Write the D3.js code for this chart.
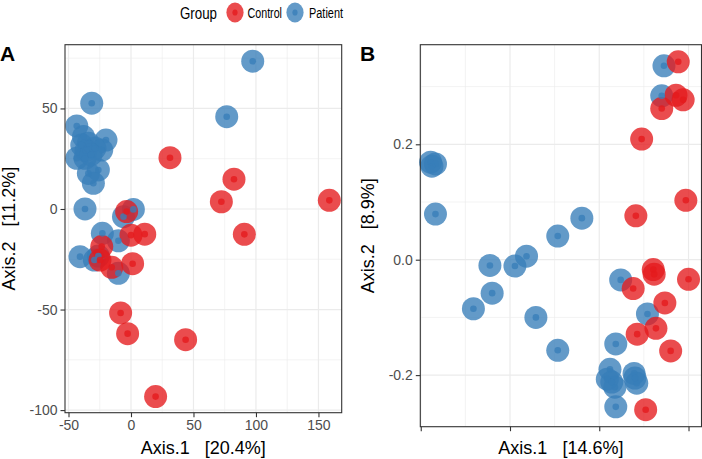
<!DOCTYPE html>
<html><head><meta charset="utf-8">
<script src="https://cdn.jsdelivr.net/npm/d3@7"></script>
<style>
html,body{margin:0;padding:0;background:#fff;}
svg text{font-family:"Liberation Sans",Arial,sans-serif;white-space:pre;}
</style></head>
<body><svg id="chart" width="702" height="459"></svg>
<script>
// ---------- data ----------
const groups = ["Control", "Patient"];
const groupColors = ["#E41A1C", "#377EB8"];

const panelA_control = [[31.2,25.5],[82.4,14.8],[72.3,3.6],[158.7,4.3],[-3.5,-1.3],[0,-13],[11,-12.5],[90.7,-12.6],[-23.4,-18.7],[-24.8,-25.4],[-15.4,-29],[1.3,-27.2],[-8.3,-51.7],[-2.7,-62],[43.7,-65],[19.7,-93.3]];
const panelA_patient = [[97.4,73.5],[76.6,45.9],[-31.4,52.6],[-43.4,41.3],[-20,34.3],[-38,36],[-39.4,31.8],[-34.1,32.7],[-28.8,30.2],[-23.4,29.3],[-36.8,25.2],[-43.4,25.2],[-26.1,19.4],[-34.1,17.7],[-30.1,12.8],[-36,29],[-32,27],[-36.8,0],[1.9,-0.2],[-6,-3.8],[-22.9,-12.1],[-10.1,-15.8],[-40.8,-23.7],[-26.1,-23.4],[-29.3,-25.4],[-10.1,-32]];

const panelB_control = [[0.177,0.343],[0.172,0.285],[0.188,0.277],[0.140,0.262],[0.095,0.209],[0.194,0.103],[0.082,0.076],[0.076,-0.050],[0.121,-0.017],[0.123,-0.025],[0.200,-0.034],[0.147,-0.075],[0.127,-0.119],[0.085,-0.129],[0.160,-0.158],[0.104,-0.260]];
const panelB_patient = [[0.145,0.336],[0.140,0.284],[-0.378,0.169],[-0.367,0.166],[-0.375,0.162],[-0.367,0.079],[-0.039,0.072],[-0.093,0.041],[-0.245,-0.010],[-0.189,-0.011],[-0.163,0.006],[-0.240,-0.058],[-0.282,-0.085],[-0.142,-0.100],[-0.093,-0.157],[0.048,-0.035],[0.108,-0.094],[0.037,-0.146],[0.024,-0.190],[0.018,-0.207],[0.035,-0.221],[0.028,-0.212],[0.078,-0.197],[0.084,-0.214],[0.080,-0.205],[0.037,-0.255]];

const panelA_xTicks = [-50, 0, 50, 100, 150];
const panelA_yTicks = [-100, -50, 0, 50];
const panelA_xMinor = [-25, 25, 75, 125];
const panelA_yMinor = [-75, -25, 25, 75];
const panelB_xTicks = [-0.4, -0.2, 0, 0.2];
const panelB_xTickLabels = ["", "", "", ""];
const panelB_yTicks = [-0.2, 0.0, 0.2];
const panelB_yTickLabels = ["-0.2", "0.0", "0.2"];
const panelB_xMinor = [-0.3, -0.1, 0.1];
const panelB_yMinor = [-0.1, 0.1, 0.3];

const titles = {A:["Axis.1   [20.4%]","Axis.2   [11.2%]"], B:["Axis.1   [14.6%]","Axis.2   [8.9%]"]};

// ---------- drawing ----------
const svg = d3.select("#chart");
const R = 11.5, r = 3.3, alpha = 0.78;

function panel(cfg){
  const x = d3.scaleLinear().domain(cfg.xDomain).range([cfg.left, cfg.right]);
  const y = d3.scaleLinear().domain(cfg.yDomain).range([cfg.bottom, cfg.top]);
  const g = svg.append("g");
  // grid
  g.selectAll(".vmin").data(cfg.xMinor).enter().append("line")
    .attr("x1", d=>x(d)).attr("x2", d=>x(d)).attr("y1", cfg.top).attr("y2", cfg.bottom)
    .attr("stroke", "#ebebeb").attr("stroke-width", 0.6);
  g.selectAll(".hmin").data(cfg.yMinor).enter().append("line")
    .attr("y1", d=>y(d)).attr("y2", d=>y(d)).attr("x1", cfg.left).attr("x2", cfg.right)
    .attr("stroke", "#ebebeb").attr("stroke-width", 0.6);
  g.selectAll(".vmaj").data(cfg.xTicks).enter().append("line")
    .attr("x1", d=>x(d)).attr("x2", d=>x(d)).attr("y1", cfg.top).attr("y2", cfg.bottom)
    .attr("stroke", "#ebebeb").attr("stroke-width", 1.2);
  g.selectAll(".hmaj").data(cfg.yTicks).enter().append("line")
    .attr("y1", d=>y(d)).attr("y2", d=>y(d)).attr("x1", cfg.left).attr("x2", cfg.right)
    .attr("stroke", "#ebebeb").attr("stroke-width", 1.2);

  // points: outer circles then inner dots
  const sets = [[cfg.patient, groupColors[1]], [cfg.control, groupColors[0]]];
  sets.forEach(([data, col]) => {
    g.append("g").selectAll("circle").data(data).enter().append("circle")
      .attr("cx", d=>x(d[0])).attr("cy", d=>y(d[1])).attr("r", R)
      .attr("fill", col).attr("fill-opacity", alpha);
  });
  sets.forEach(([data, col]) => {
    g.append("g").selectAll("circle").data(data).enter().append("circle")
      .attr("cx", d=>x(d[0])).attr("cy", d=>y(d[1])).attr("r", r)
      .attr("fill", col).attr("fill-opacity", alpha);
  });

  // border
  g.append("rect").attr("x", cfg.left).attr("y", cfg.top)
    .attr("width", cfg.right-cfg.left).attr("height", cfg.bottom-cfg.top)
    .attr("fill", "none").attr("stroke", "#333333").attr("stroke-width", 1.1);

  // axes
  const xa = d3.axisBottom(x).tickValues(cfg.xTicks).tickSize(4.5).tickPadding(2.5)
    .tickFormat((d,i)=>cfg.xLabels[i]);
  const ya = d3.axisLeft(y).tickValues(cfg.yTicks).tickSize(4.5).tickPadding(3)
    .tickFormat((d,i)=>cfg.yLabels[i]);
  const gx = g.append("g").attr("transform", `translate(0,${cfg.bottom})`).call(xa);
  const gy = g.append("g").attr("transform", `translate(${cfg.left},0)`).call(ya);
  [gx, gy].forEach(a => {
    a.select(".domain").remove();
    a.selectAll(".tick line").attr("stroke", "#333333").attr("stroke-width", 1.1);
    a.selectAll(".tick text").attr("fill", "#4d4d4d").style("font-size", "14px")
      .style("font-family", '"Liberation Sans",Arial,sans-serif');
  });

  // titles
  g.append("text").attr("x", (cfg.left+cfg.right)/2).attr("y", 454)
    .attr("text-anchor", "middle").style("font-size", "18px").attr("fill", "#000")
    .text(cfg.titles[0]);
  g.append("text").attr("transform", `translate(${cfg.yTitleX},${(cfg.top+cfg.bottom)/2}) rotate(-90)`)
    .attr("text-anchor", "middle").style("font-size", "18px").attr("fill", "#000")
    .text(cfg.titles[1]);
  g.append("text").attr("x", cfg.tagX).attr("y", 61).style("font-size", "21px")
    .style("font-weight", "bold").text(cfg.tag);
}

panel({
  left: 65, right: 341.7, top: 44.7, bottom: 412.7,
  xDomain: [-52.8, 168.6], yDomain: [-101.3, 81.7],
  xTicks: panelA_xTicks, yTicks: panelA_yTicks, xMinor: panelA_xMinor, yMinor: panelA_yMinor,
  xLabels: panelA_xTicks.map(String), yLabels: panelA_yTicks.map(String),
  control: panelA_control, patient: panelA_patient,
  titles: titles.A, yTitleX: 15, tag: "A", tagX: 0
});
panel({
  left: 420.3, right: 701.5, top: 44.7, bottom: 426.7,
  xDomain: [-0.401, 0.2291], yDomain: [-0.2894, 0.3726],
  xTicks: panelB_xTicks, yTicks: panelB_yTicks, xMinor: panelB_xMinor, yMinor: panelB_yMinor,
  xLabels: panelB_xTickLabels, yLabels: panelB_yTickLabels,
  control: panelB_control, patient: panelB_patient,
  titles: titles.B, yTitleX: 374, tag: "B", tagX: 360
});

// legend
const lg = svg.append("g");
lg.append("text").attr("x", 180).attr("y", 19).style("font-size", "17px")
  .attr("textLength", 37).attr("lengthAdjust", "spacingAndGlyphs").text("Group");
const keyX = [235, 295], labX = [247.5, 309], labW = [34.5, 34];
groups.forEach((grp, i) => {
  lg.append("ellipse").attr("cx", keyX[i]).attr("cy", 12.5).attr("rx", 8.6).attr("ry", 10)
    .attr("fill", groupColors[i]).attr("fill-opacity", alpha);
  lg.append("ellipse").attr("cx", keyX[i]).attr("cy", 12.5).attr("rx", 2.6).attr("ry", 3.1)
    .attr("fill", groupColors[i]).attr("fill-opacity", alpha);
  lg.append("text").attr("x", labX[i]).attr("y", 17.5).style("font-size", "14px")
    .attr("textLength", labW[i]).attr("lengthAdjust", "spacingAndGlyphs").text(grp);
});
</script></body></html>
